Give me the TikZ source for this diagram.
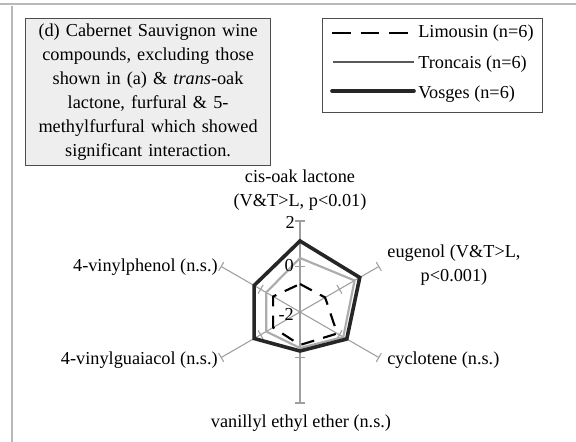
\documentclass[tikz,border=0pt]{standalone}
\usepackage{fontspec}
\setmainfont{Liberation Serif}
\usetikzlibrary{calc}
\begin{document}
\begin{tikzpicture}[x=0.75pt,y=-0.75pt,
  txt/.style={font=\fontsize{13.7}{18}\selectfont, inner sep=0pt},
  axisline/.style={draw=gray!75, line width=0.8pt},
  tickmark/.style={draw=gray!75, line width=0.8pt},
  limline/.style={draw=black, line width=1.6pt, dash pattern=on 10pt off 7pt},
  tronline/.style={draw=gray!65, line width=1.6pt},
  vosline/.style={draw=black!85, line width=2.7pt, line join=miter},
  framebox/.style={draw=gray!60!black, line width=0.9pt}]
\useasboundingbox (0,0) rectangle (576,442);
\fill[white] (0,0) rectangle (576,442);

% page frame edges
\draw[gray!55, line width=1.2pt] (0,4) -- (576,4);
\draw[gray!55, line width=1.5pt] (11.5,6) -- (11.5,442);

% title panel
\node[framebox, fill=gray!13, minimum width=183.75pt, minimum height=110.25pt, anchor=north west, inner sep=0pt] (title) at (25,18) {};
\node[txt, align=center, text width=180pt, anchor=center] (titletext) at (title.center)
  {\baselineskip=23.8\dimexpr0.75pt\relax
   (d) Cabernet Sauvignon wine\\compounds, excluding those\\shown in (a) \& \textit{trans}-oak\\lactone, furfural \& 5-\\methylfurfural which showed\\significant interaction.};

% legend
\node[framebox, fill=white, minimum width=165pt, minimum height=70.5pt, anchor=north west, inner sep=0pt] (legend) at (322,18) {};
\coordinate (lA) at (332,33);  \coordinate (lB) at (412,33);
\coordinate (tA) at (333,62);  \coordinate (tB) at (414,62);
\coordinate (vA) at (332,91);  \coordinate (vB) at (414,91);
\draw[limline, dash pattern=on 14pt off 7.5pt] (lA) -- (lB);
\draw[tronline, gray!70!black, line width=1.4pt] (tA) -- (tB);
\draw[vosline, line cap=round] (vA) -- (vB);
\node[txt, anchor=west] (limtxt) at (418,33) {Limousin (n=6)};
\node[txt, anchor=west] (trotxt) at (418,64) {Troncais (n=6)};
\node[txt, anchor=west] (vostxt) at (418,94) {Vosges (n=6)};

% radar chart, centred on the -2 level
\begin{scope}[shift={(300,312)}, yscale=-1]
  \coordinate (c) at (0,0);
  \foreach \a/\nm in {90/top,30/ur,-30/lr,-90/bot,210/ll,150/ul}{
    \coordinate (\nm) at (\a:91);
    \coordinate (\nm m) at (\a:45.5);
    \draw[axisline] (c) -- (\nm);
    \draw[tickmark] ($(\nm)+(\a+90:5)$) -- ($(\nm)+(\a-90:5)$);
    \draw[tickmark] ($(\nm m)+(\a+90:5)$) -- ($(\nm m)+(\a-90:5)$);
  }
  % Limousin
  \draw[limline] (90:28) -- (30:29) -- (-30:43) -- (-90:33) -- (210:31) -- (150:31) -- cycle;
  % Troncais
  \draw[tronline] (90:54) -- (30:63) -- (-30:50) -- (-90:36) -- (210:39) -- (150:39) -- cycle;
  % Vosges
  \draw[vosline] (90:71) -- (30:69) -- (-30:54) -- (-90:39) -- (210:53) -- (150:53) -- cycle;
\end{scope}

% scale labels
\node[txt, anchor=east] (s2) at (295,222) {2};
\node[txt, anchor=east] (s0) at (294,266) {0};
\node[txt, anchor=east] (sm2) at (294,314) {-2};

% axis labels
\node[txt, align=center] (cis) at (300,190) {\baselineskip=25\dimexpr0.75pt\relax cis-oak lactone\\(V\&T>L, p<0.01)};
\node[txt, align=center] (eug) at (454,265) {\baselineskip=24\dimexpr0.75pt\relax eugenol (V\&T>L,\\p<0.001)};
\node[txt, anchor=west] (cyc) at (387,360) {cyclotene (n.s.)};
\node[txt] (van) at (301,423) {vanillyl ethyl ether (n.s.)};
\node[txt, anchor=east] (vgu) at (218,360) {4-vinylguaiacol (n.s.)};
\node[txt, anchor=east] (vph) at (218,267) {4-vinylphenol (n.s.)};
\end{tikzpicture}
\end{document}
